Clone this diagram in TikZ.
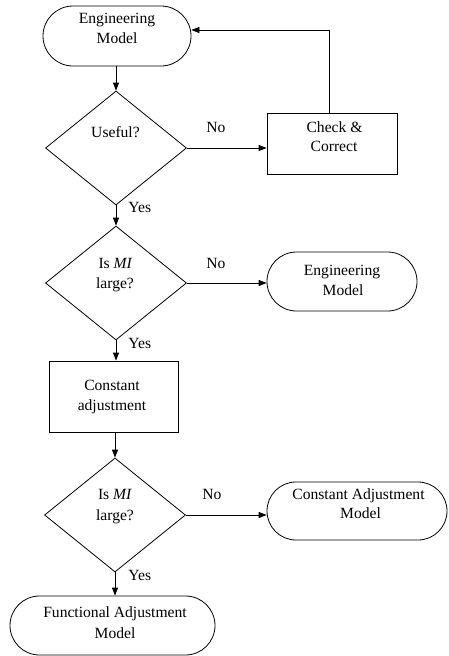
\documentclass[tikz,border=0pt]{standalone}
\usepackage{fontspec}
\setmainfont{Liberation Serif}
\usetikzlibrary{shapes.geometric,shapes.misc,arrows.meta}
\begin{document}
\begin{tikzpicture}[x=1pt,y=-1pt,line width=0.8pt,
  term/.style={draw,rounded rectangle,inner sep=0pt,minimum height=59pt,minimum width=#1},
  dec/.style={draw,diamond,inner sep=0pt,minimum width=141pt,minimum height=114pt},
  proc/.style={draw,rectangle,inner sep=0pt},
  txt/.style={anchor=base,inner sep=0pt,font=\fontsize{15.6}{19}\selectfont},
  lbl/.style={anchor=base west,inner sep=0pt,font=\fontsize{15.6}{19}\selectfont},
  arr/.style={-{Triangle[length=8pt,width=6pt]}}]
\useasboundingbox (0,0) rectangle (448,656);
% shapes
\node[term=148pt,minimum height=60pt] (t1) at (117,36) {};
\node[dec] (d1) at (116,148) {};
\node[proc,minimum width=130pt,minimum height=61pt] (cc) at (332,143.5) {};
\node[dec] (d2) at (116,283) {};
\node[term=150pt] (t2) at (342,281.5) {};
\node[proc,minimum width=129pt,minimum height=71pt] (ca) at (114,396.5) {};
\node[dec] (d3) at (115,515) {};
\node[term=180pt,minimum height=58pt] (t3) at (357,511) {};
\node[term=205pt] (t4) at (112.5,625.5) {};
% texts
\node[txt] (t1a) at (117,23) {Engineering};
\node[txt] (t1b) at (117,43) {Model};
\node[txt] (d1a) at (115.5,137) {Useful?};
\node[txt] (cca) at (334.5,132) {Check \&};
\node[txt] (ccb) at (334,151) {Correct};
\node[txt] (d2a) at (115.5,268) {Is \textit{MI}};
\node[txt] (d2b) at (115,288) {large?};
\node[txt] (t2a) at (342,275) {Engineering};
\node[txt] (t2b) at (343,295) {Model};
\node[txt] (caa) at (112,390) {Constant};
\node[txt] (cab) at (112,410) {adjustment};
\node[txt] (d3a) at (115,499) {Is \textit{MI}};
\node[txt] (d3b) at (115,520) {large?};
\node[txt] (t3a) at (358.5,499) {Constant Adjustment};
\node[txt] (t3b) at (360.5,518) {Model};
\node[txt] (t4a) at (115,617) {Functional Adjustment};
\node[txt] (t4b) at (115,638) {Model};
% labels
\node[txt] (no1) at (216,132) {No};
\node[txt] (no2) at (216,268) {No};
\node[txt] (no3) at (212,499) {No};
\node[lbl] (y1) at (128,212) {Yes};
\node[lbl] (y2) at (128,348) {Yes};
\node[lbl] (y3) at (128,580) {Yes};
% connectors
\draw[arr] (t1.south -| d1.north) -- (d1.north);
\draw[arr] (d1.east) -- (d1.east -| cc.west);
\coordinate (fb) at (329,30);
\draw[arr] (cc.north -| fb) -- (fb) -- (t1.east |- fb);
\draw[arr] (d1.south) -- (d2.north);
\draw[arr] (d2.east) -- (d2.east -| t2.west);
\draw[arr] (d2.south) -- (d2.south |- ca.north);
\draw[arr] (ca.south -| d3.north) -- (d3.north);
\draw[arr] (d3.east) -- (d3.east -| t3.west);
\draw[arr] (d3.south) -- (d3.south |- t4.north);
\end{tikzpicture}
\end{document}
